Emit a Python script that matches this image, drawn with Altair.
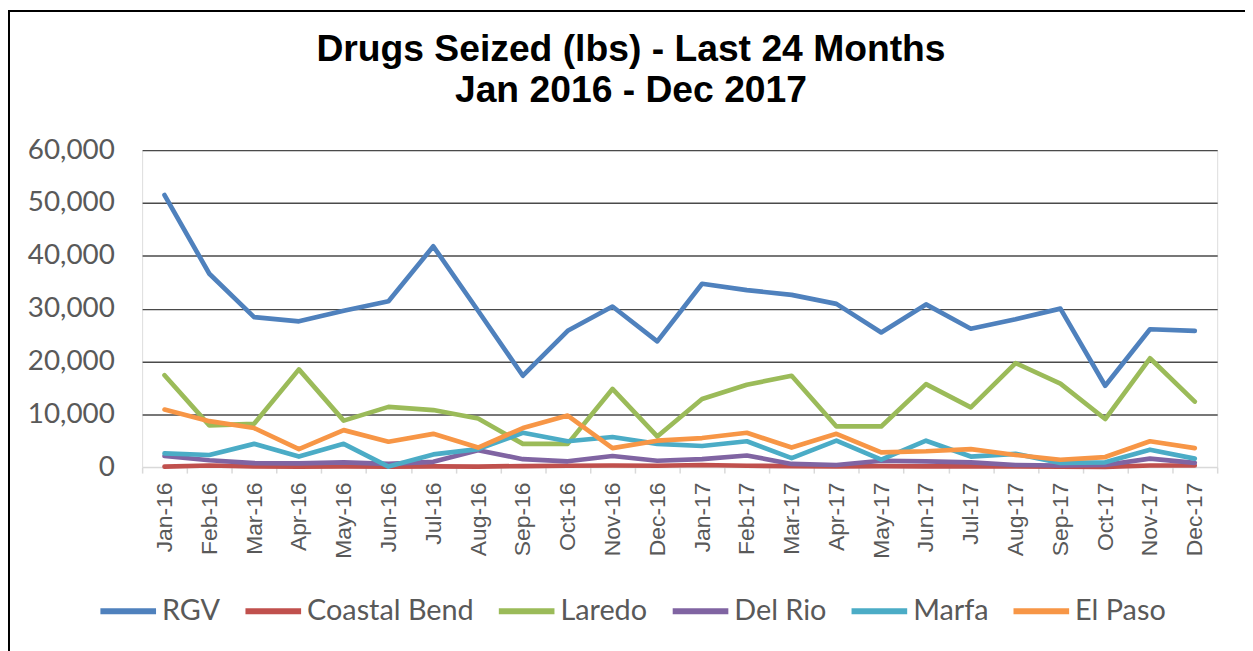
import altair as alt
import pandas as pd

months = ["Jan-16", "Feb-16", "Mar-16", "Apr-16", "May-16", "Jun-16", "Jul-16", "Aug-16",
          "Sep-16", "Oct-16", "Nov-16", "Dec-16", "Jan-17", "Feb-17", "Mar-17", "Apr-17",
          "May-17", "Jun-17", "Jul-17", "Aug-17", "Sep-17", "Oct-17", "Nov-17", "Dec-17"]

rgv = [51500, 36600, 28400, 27600, 29600, 31400, 41800, 29600, 17300, 25800, 30400, 23800,
       34700, 33500, 32600, 30900, 25500, 30800, 26200, 28000, 30000, 15400, 26100, 25800]
coastal_bend = [100, 300, 150, 100, 150, 100, 150, 100, 200, 250, 300, 250,
                400, 250, 200, 150, 200, 150, 150, 150, 100, 50, 300, 300]
laredo = [17400, 7900, 8200, 18500, 8800, 11400, 10800, 9200, 4400, 4400, 14800, 5800,
          12900, 15600, 17300, 7700, 7700, 15700, 11300, 19700, 15800, 9100, 20600, 12400]
del_rio = [2100, 1300, 750, 700, 900, 600, 1000, 3200, 1500, 1100, 2100, 1200,
           1500, 2200, 600, 400, 1200, 1100, 900, 400, 300, 400, 1600, 800]
marfa = [2600, 2300, 4400, 2000, 4400, 100, 2400, 3400, 6500, 4900, 5700, 4400,
         4000, 4900, 1700, 5000, 1400, 5000, 2000, 2500, 800, 900, 3300, 1600]
el_paso = [10900, 8700, 7400, 3400, 7000, 4800, 6300, 3700, 7400, 9750, 3600, 5000,
           5500, 6500, 3700, 6300, 2800, 3000, 3400, 2300, 1400, 1900, 4900, 3600]

series_names = ["RGV", "Coastal Bend", "Laredo", "Del Rio", "Marfa", "El Paso"]
series_values = [rgv, coastal_bend, laredo, del_rio, marfa, el_paso]
series_colors = ["#4F81BD", "#C0504D", "#9BBB59", "#8064A2", "#4BACC6", "#F79646"]

rows = []
for name, vals in zip(series_names, series_values):
    for m, v in zip(months, vals):
        rows.append({"Month": m, "Region": name, "Pounds": v})
df = pd.DataFrame(rows)

label_font = "Lato"
gray = "#595959"

lines = alt.Chart(df).mark_line(strokeWidth=4.7, strokeCap="round", strokeJoin="round").encode(
    x=alt.X("Month:N", sort=months, bandPosition=0.5,
            scale=alt.Scale(type="band", paddingInner=0, paddingOuter=0),
            axis=alt.Axis(title=None, labelAngle=270, labelAlign="right", labelBaseline="middle",
                          labelFont="Liberation Sans", labelFontSize=23, labelColor=gray,
                          labelPadding=9, tickSize=6, tickColor="#D9D9D9", tickWidth=1.5,
                          domainColor="#D9D9D9", domainWidth=1.5, tickBand="extent",
                          grid=False)),
    y=alt.Y("Pounds:Q", scale=alt.Scale(domain=[0, 60000], nice=False),
            axis=alt.Axis(title=None, values=[0, 10000, 20000, 30000, 40000, 50000, 60000],
                          format=",.0f", labelFont=label_font, labelFontSize=28,
                          labelColor=gray, ticks=False, domain=False, labelPadding=28,
                          gridColor={"condition": {"test": "datum.value === 0", "value": "transparent"},
                                     "value": "#4A4A4A"},
                          gridWidth=1.4)),
    color=alt.Color("Region:N", sort=series_names,
                    scale=alt.Scale(domain=series_names, range=series_colors),
                    legend=alt.Legend(title=None, orient="none", direction="horizontal",
                                      legendX=-45, legendY=433, columns=6,
                                      symbolType="stroke", symbolSize=3136, symbolStrokeWidth=6,
                                      labelFont=label_font, labelFontSize=29, labelColor=gray,
                                      labelOffset=3, columnPadding=13, labelLimit=400)),
    order=alt.Order("Region:N", sort="ascending"),
)

frame = alt.Chart(pd.DataFrame({"a": [0]})).mark_rect(
    fill="transparent", stroke="black", strokeWidth=2
).encode(x=alt.value(-134), x2=alt.value(1300), y=alt.value(-140), y2=alt.value(700))

chart = alt.layer(frame, lines).properties(
    width=1082, height=319,
    title=alt.TitleParams(text=["Drugs Seized (lbs) - Last 24 Months", "Jan 2016 - Dec 2017"],
                          font="Liberation Sans", fontSize=37.5, fontWeight="bold", color="black",
                          anchor="middle", frame="group", dx=-49, offset=0, dy=138,
                          baseline="bottom", lineHeight=41),
    autosize=alt.AutoSizeParams(type="none"),
    padding={"left": 135, "top": 141, "right": 28, "bottom": 183},
).configure_view(stroke=None).configure(background="white")

chart.save("out.html", embed_options={"renderer": "svg", "actions": False})
